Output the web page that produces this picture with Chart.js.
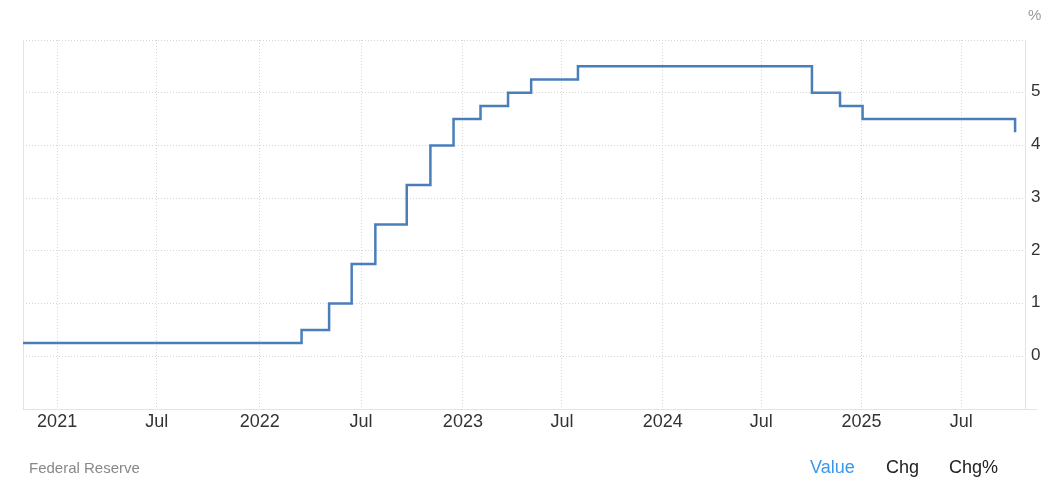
<!DOCTYPE html>
<html><head><meta charset="utf-8">
<script src="https://cdn.jsdelivr.net/npm/chart.js@4.4.1/dist/chart.umd.min.js"></script>
<style>
html,body{margin:0;padding:0;background:#fff;overflow:hidden;}
#wrap{position:relative;width:1055px;height:487px;font-family:"Liberation Sans",Arial,sans-serif;}
#c{position:absolute;left:0;top:0;}
.t{position:absolute;white-space:nowrap;line-height:1;}
</style></head><body>
<div id="wrap">
<canvas id="c" width="1055" height="487"></canvas>
<div class="t" style="left:1028px;top:7px;font-size:15px;color:#999">%</div>
<div class="t" style="left:29px;top:460px;font-size:15px;color:#888">Federal Reserve</div>
<div class="t" style="left:810px;top:458px;font-size:18px;color:#3a97ee">Value</div>
<div class="t" style="left:886px;top:458px;font-size:18px;color:#222">Chg</div>
<div class="t" style="left:949px;top:458px;font-size:18px;color:#222">Chg%</div>
</div>
<script>
// Dates where the rate changed (as drawn) and the new level (%)
const changeDates = ['2020-10-31','2022-03-21','2022-05-10','2022-06-20','2022-08-02','2022-09-28','2022-11-10','2022-12-22','2023-02-09','2023-03-31','2023-05-12','2023-08-05','2024-10-03','2024-11-23','2025-01-03','2025-10-07'];
const rateValues  = [0.25, 0.5, 1.0, 1.75, 2.5, 3.25, 4.0, 4.5, 4.75, 5.0, 5.25, 5.5, 5.0, 4.75, 4.5, 4.25];
// tick positions as drawn (first data point of each half-year)
const tickDates   = ['2021-01-01','2021-07-01','2022-01-04','2022-07-07','2023-01-08','2023-07-07','2024-01-06','2024-07-03','2025-01-01','2025-07-01'];
const tickLabels  = ['2021','Jul','2022','Jul','2023','Jul','2024','Jul','2025','Jul'];
const yTickValues = [-1, 0, 1, 2, 3, 4, 5, 6];
const yTickLabels = ['', '0', '1', '2', '3', '4', '5', ''];
const xStart = '2020-10-31';
const xEnd = '2025-10-25';

const points = changeDates.map((d, i) => ({x: Date.parse(d), y: rateValues[i]}));

const edgeLines = {
  id: 'edgeLines',
  beforeDatasetsDraw(chart) {
    const {ctx, chartArea: a} = chart;
    ctx.save();
    ctx.strokeStyle = '#e3e3e3';
    ctx.lineWidth = 1;
    ctx.beginPath();
    ctx.moveTo(a.left + 0.5, a.top);
    ctx.lineTo(a.left + 0.5, a.bottom);
    ctx.moveTo(a.right, a.bottom + 0.5);
    ctx.lineTo(a.right + 12, a.bottom + 0.5);
    ctx.stroke();
    ctx.restore();
  }
};

new Chart(document.getElementById('c'), {
  type: 'line',
  data: {
    datasets: [{
      data: points,
      stepped: true,
      borderColor: '#4a7ebb',
      borderWidth: 2.5,
      pointRadius: 0,
      pointHoverRadius: 0,
      fill: false
    }]
  },
  options: {
    responsive: false,
    animation: false,
    devicePixelRatio: 1,
    layout: {padding: {left: 23, top: 40, right: 0, bottom: 0}},
    plugins: {legend: {display: false}, tooltip: {enabled: false}},
    scales: {
      x: {
        type: 'linear',
        min: Date.parse(xStart),
        max: Date.parse(xEnd),
        afterBuildTicks: s => { s.ticks = tickDates.map(d => ({value: Date.parse(d)})); },
        afterFit: s => { s.height = 78; },
        grid: {color: '#d6d6d6', lineWidth: 1, drawTicks: false, tickLength: 0},
        border: {display: true, color: '#e3e3e3', dash: [1, 2]},
        ticks: {
          autoSkip: false, maxRotation: 0, padding: 2,
          color: '#333',
          font: {family: '"Liberation Sans", Arial, sans-serif', size: 18},
          callback: (v, i) => tickLabels[i]
        }
      },
      y: {
        position: 'right',
        min: -1, max: 6,
        afterBuildTicks: s => { s.ticks = yTickValues.map(v => ({value: v})); },
        afterFit: s => { s.width = 30; },
        grid: {color: '#d6d6d6', lineWidth: 1, drawTicks: false, tickLength: 0},
        border: {display: true, color: '#e3e3e3', dash: [1, 2]},
        ticks: {
          padding: 6, labelOffset: -1,
          color: '#333',
          font: {family: '"Liberation Sans", Arial, sans-serif', size: 17},
          callback: (v, i) => yTickLabels[i]
        }
      }
    }
  },
  plugins: [edgeLines]
});
</script>
</body></html>
